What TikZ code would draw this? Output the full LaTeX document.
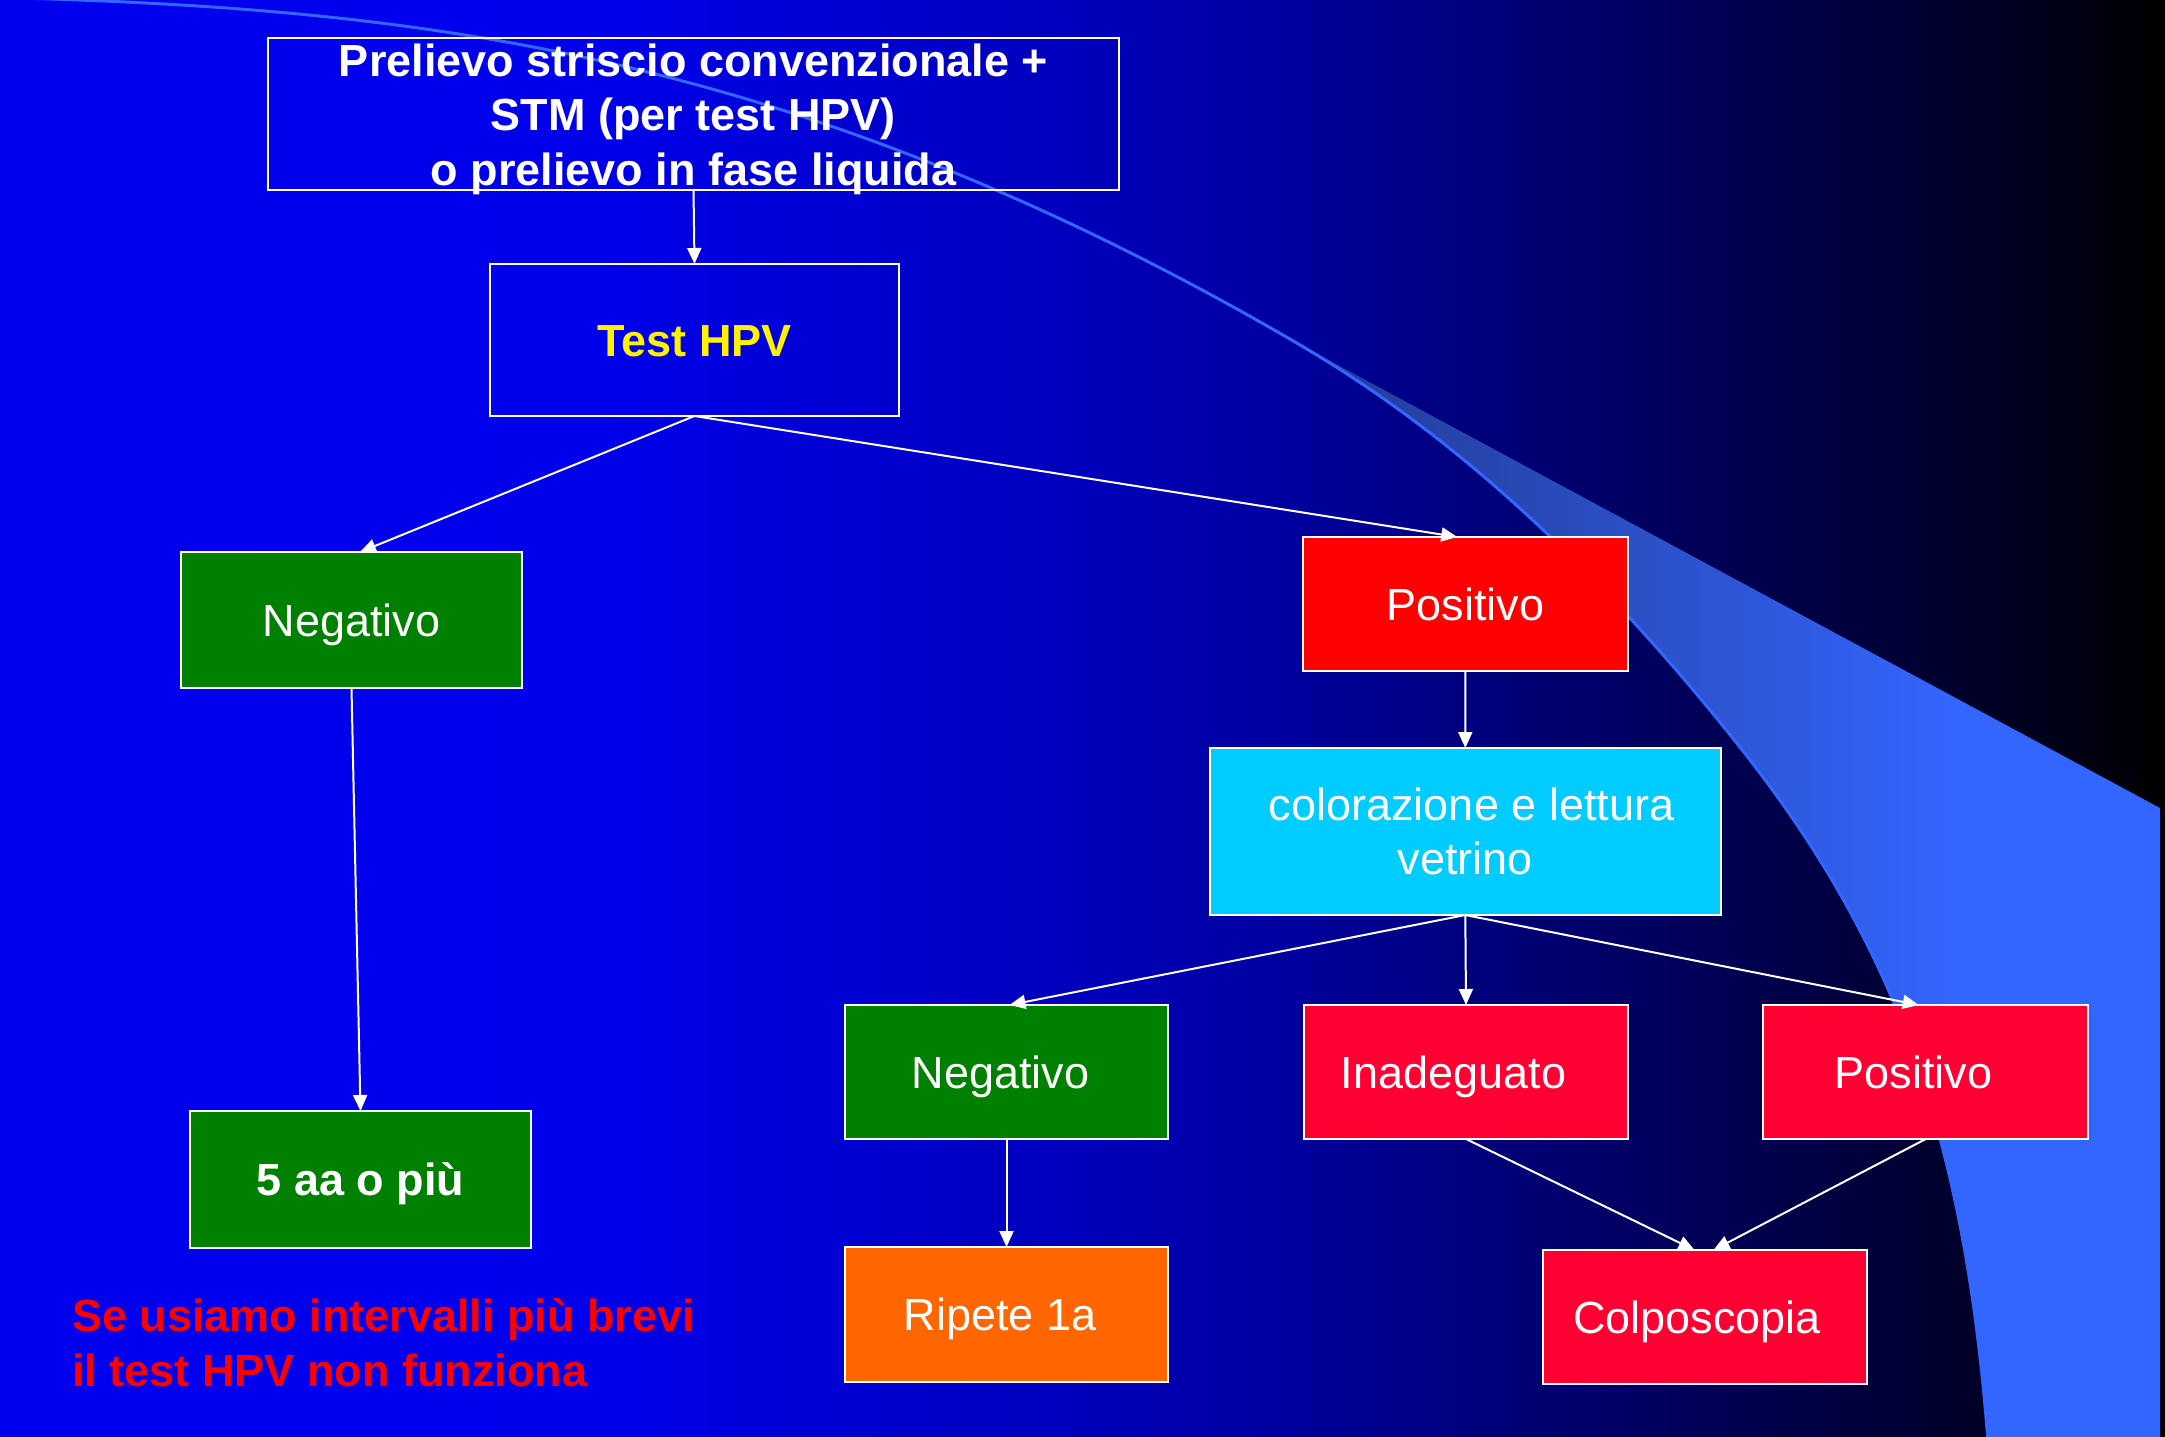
\documentclass[tikz,border=0pt]{standalone}
\usepackage{fontspec}
\setmainfont{Liberation Sans}
\usetikzlibrary{arrows.meta}
\definecolor{bandblue}{RGB}{51,102,255}
\definecolor{boxgreen}{RGB}{0,128,0}
\definecolor{boxred}{RGB}{255,0,0}
\definecolor{boxcrimson}{RGB}{255,0,51}
\definecolor{boxcyan}{RGB}{0,204,255}
\definecolor{boxorange}{RGB}{255,102,0}
\pgfdeclarehorizontalshading{bgshade}{100bp}{rgb(0bp)=(0,0,0.94); rgb(25bp)=(0,0,0.94); rgb(38.86bp)=(0,0,0.92); rgb(43.94bp)=(0,0,0.83); rgb(50.4bp)=(0,0,0.725); rgb(54.33bp)=(0,0,0.63); rgb(59.64bp)=(0,0,0.47); rgb(65.42bp)=(0,0,0.31); rgb(71.19bp)=(0,0,0.14); rgb(75bp)=(0,0,0); rgb(100bp)=(0,0,0)}
\pgfdeclarehorizontalshading{bandshade}{100bp}{rgb(0bp)=(0.13,0.23,0.58); rgb(25bp)=(0.13,0.23,0.58); rgb(39.66bp)=(0.16,0.29,0.72); rgb(51.25bp)=(0.18,0.34,0.85); rgb(62.8bp)=(0.2,0.4,1); rgb(75bp)=(0.2,0.4,1); rgb(100bp)=(0.2,0.4,1)}
\begin{document}
\begin{tikzpicture}[x=1pt,y=-1pt,
  box/.style={draw=white,line width=2pt,inner sep=0pt,outer sep=0pt,rectangle},
  lbl/.style={text=white,font=\fontsize{45}{54.5}\selectfont,inner sep=0pt,text height=32.2pt,text depth=0pt},
  lblb/.style={lbl,font=\bfseries\fontsize{45}{54.5}\selectfont},
  lblm/.style={text=white,font=\fontsize{45}{54.5}\selectfont,inner sep=0pt,align=center},
  conn/.style={draw=white,line width=2pt,-{Triangle[length=16pt,width=14pt]}}]
\useasboundingbox (0,0) rectangle (2165,1436);
% background
\shade[shading=bgshade] (0,0) rectangle (2165,1436);
% decorative band
\shade[shading=bandshade] (1295,342) .. controls (1445,429) and (1589,557) .. (1739,746)
  .. controls (1899,947.6) and (1964.9,1142) .. (1988,1442) -- (2160,1442) -- (2160,808) -- cycle;
\draw[bandblue,line width=3pt] (20,-2) .. controls (420,10) and (795,51) .. (1295,342)
  .. controls (1445,429) and (1589,557) .. (1739,746)
  .. controls (1899,947.6) and (1964.9,1142) .. (1988,1442);
% nodes
\node[box,minimum width=851pt,minimum height=152pt,
  label={[lblm,font=\bfseries\fontsize{45}{54.5}\selectfont,yshift=-5.4pt]center:Prelievo striscio convenzionale +\\STM (per test HPV)\\o prelievo in fase liquida}] (top) at (693.5,113.7) {};
\node[box,minimum width=409pt,minimum height=152pt,
  label={[lblb,text=yellow]center:Test HPV}] (hpv) at (694.5,340) {};
\node[box,fill=boxgreen,minimum width=341pt,minimum height=136pt,
  label={[lbl]center:Negativo}] (neg1) at (351.5,620) {};
\node[box,fill=boxred,minimum width=324.5pt,minimum height=134pt,
  label={[lbl]center:Positivo}] (pos1) at (1465.25,604) {};
\node[box,fill=boxcyan,minimum width=511.4pt,minimum height=167pt,
  label={[lblm]center:\hspace*{12.5pt}colorazione e lettura\\vetrino}] (col) at (1465.3,831.5) {};
\node[box,fill=boxgreen,minimum width=323pt,minimum height=134pt,
  label={[lbl,xshift=-6pt]center:Negativo}] (neg2) at (1006.5,1072) {};
\node[box,fill=boxcrimson,minimum width=324pt,minimum height=134pt,
  label={[lbl,xshift=-12.5pt]center:Inadeguato}] (inad) at (1466,1072) {};
\node[box,fill=boxcrimson,minimum width=324.7pt,minimum height=134pt,
  label={[lbl,xshift=-12pt]center:Positivo}] (pos2) at (1925.7,1072) {};
\node[box,fill=boxgreen,minimum width=341pt,minimum height=137pt,
  label={[lblb]center:5 aa o più}] (five) at (360.5,1179.5) {};
\node[box,fill=boxorange,minimum width=323pt,minimum height=135pt,
  label={[lbl,xshift=-6.5pt]center:Ripete 1a}] (rip) at (1006.5,1314.5) {};
\node[box,fill=boxcrimson,minimum width=324pt,minimum height=134pt,
  label={[lbl,xshift=-7.5pt]center:Colposcopia}] (colp) at (1704.5,1317) {};
\node[anchor=north west,inner sep=0pt,align=left,text=red,font=\bfseries\fontsize{45}{55}\selectfont] (note) at (72,1298.5) {Se usiamo intervalli più brevi\\il test HPV non funziona};
% connectors
\draw[conn] (top.south) -- (hpv.north);
\draw[conn] (hpv.south) -- ([xshift=8.5pt]neg1.north);
\draw[conn] (hpv.south) -- ([xshift=-8pt]pos1.north);
\draw[conn] (neg1.south) -- (five.north);
\draw[conn] (pos1.south) -- (col.north);
\draw[conn] (col.south) -- ([xshift=3pt]neg2.north);
\draw[conn] (col.south) -- (inad.north);
\draw[conn] (col.south) -- ([xshift=-7pt]pos2.north);
\draw[conn] (neg2.south) -- (rip.north);
\draw[conn] (inad.south) -- ([xshift=-10pt]colp.north);
\draw[conn] (pos2.south) -- ([xshift=9pt]colp.north);
\end{tikzpicture}
\end{document}
